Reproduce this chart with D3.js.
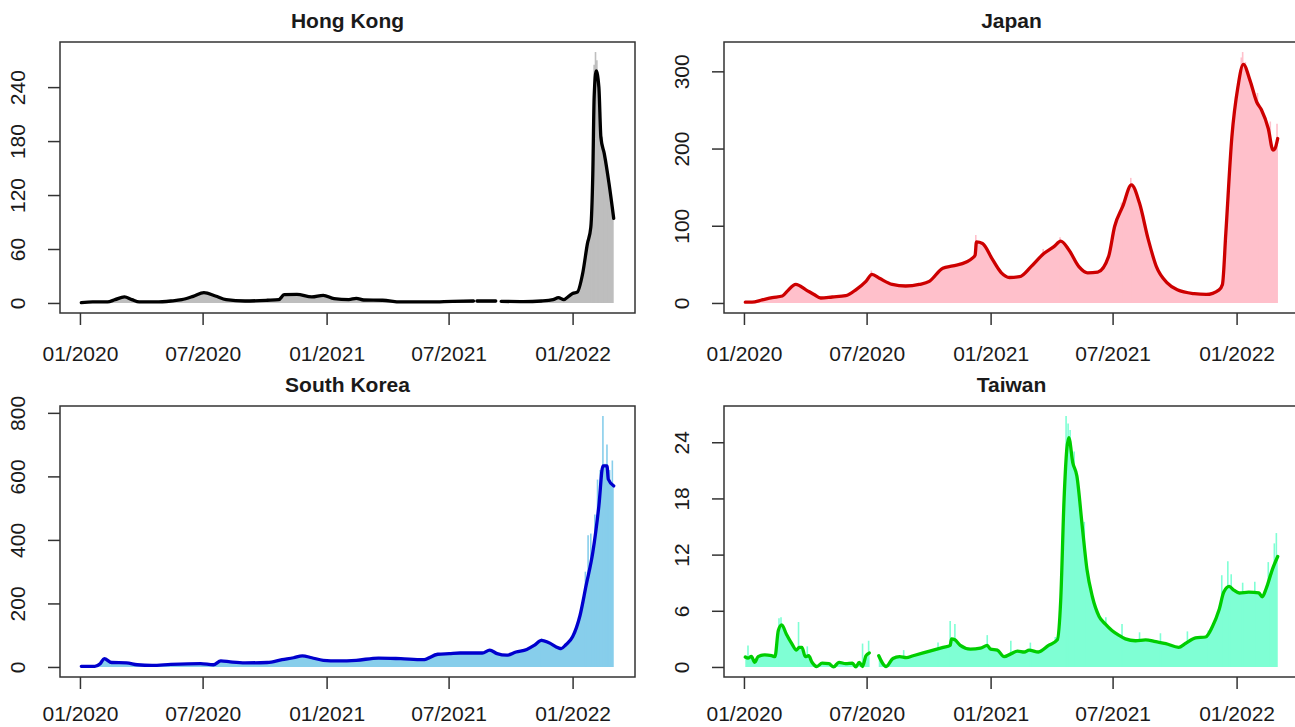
<!DOCTYPE html>
<html>
<head>
<meta charset="utf-8">
<script src="https://cdn.jsdelivr.net/npm/d3@7"></script>
<style>
  body { margin: 0; background: #fff; }
  svg text { font-family: "Liberation Sans", Arial, sans-serif; fill: #1a1a1a; }
</style>
</head>
<body>
<div id="chart"></div>
<script>
// x axis ticks shared by all four panels
const xTickDates = ["2020-01-01", "2020-07-01", "2021-01-01", "2021-07-01", "2022-01-01"];

// Hong Kong: 7-day average line + daily spikes above it
const hkDates = ["2020-01-03","2020-01-20","2020-02-11","2020-02-22","2020-03-07","2020-03-18","2020-03-29","2020-04-23","2020-05-15","2020-05-31","2020-06-17","2020-07-03","2020-07-20","2020-08-05","2020-09-02","2020-10-05","2020-10-22","2020-10-30","2020-11-18","2020-12-10","2020-12-27","2021-01-12","2021-02-03","2021-02-14","2021-02-25","2021-03-25","2021-04-21","2021-06-04","2021-07-07","2021-08-07","2021-08-10","2021-08-12","2021-09-09","2021-09-13","2021-09-17","2021-10-20","2021-11-16","2021-12-03","2021-12-11","2021-12-19","2021-12-27","2022-01-01","2022-01-08","2022-01-16","2022-01-23","2022-01-28","2022-01-31","2022-02-02","2022-02-05","2022-02-09","2022-02-12","2022-02-17","2022-02-24","2022-03-03"];
const hkAvg = [0.4,1.1,1.1,3.7,6.7,3.7,1.1,1.1,2.2,3.7,7.4,11.5,7.8,3.7,2.2,3.0,3.7,9.2,9.6,6.7,8.5,4.8,3.7,5.2,3.3,3.0,1.1,1.1,1.8,2.2,null,2.2,2.2,null,1.8,1.5,2.2,3.7,5.9,3.7,8,10.5,12,33,66,84,144,229,258,240,184,166,133,94];
const hkSpikeDates = ["2022-01-29","2022-01-31","2022-02-02","2022-02-04","2022-02-06","2022-02-09","2022-02-14","2022-02-20"];
const hkSpikeValues = [95,200,265,279,270,245,185,160];
const hkTicks = [0, 60, 120, 180, 240];

// Japan
const jpDates = ["2020-01-03","2020-01-13","2020-01-28","2020-02-12","2020-02-27","2020-03-05","2020-03-18","2020-04-02","2020-04-14","2020-04-24","2020-05-11","2020-05-31","2020-06-15","2020-06-30","2020-07-09","2020-07-20","2020-08-08","2020-08-28","2020-09-17","2020-10-02","2020-10-22","2020-11-06","2020-11-26","2020-12-05","2020-12-09","2020-12-11","2020-12-20","2021-01-04","2021-01-17","2021-01-29","2021-02-13","2021-03-02","2021-03-21","2021-04-05","2021-04-15","2021-04-27","2021-05-12","2021-05-25","2021-06-09","2021-06-25","2021-07-04","2021-07-16","2021-07-29","2021-08-10","2021-08-23","2021-09-04","2021-09-20","2021-10-05","2021-10-30","2021-11-17","2021-12-06","2021-12-11","2021-12-16","2021-12-25","2022-01-03","2022-01-11","2022-01-21","2022-01-31","2022-02-07","2022-02-17","2022-02-24","2022-02-27","2022-03-03"];
const jpAvg = [1,1,4,7,9,15,24,17,11,6.4,7.7,9.4,17,28,37,32,24,22,24,28,45,48,53,58,62,79,77,56,39,33,34,47,64,73,80,69,47,39,40,60,99,125,153,129,82,47,26,17,12,11,17,24,90,215,280,309,288,260,250,226,198,200,213];
const jpSpikeDates = ["2020-07-08","2020-12-10","2021-03-20","2021-04-14","2021-07-14","2021-07-28","2022-01-08","2022-01-10","2022-01-14","2022-02-01","2022-02-20","2022-03-02"];
const jpSpikeValues = [42,88,70,85,130,162,318,325,312,272,235,232];
const jpTicks = [0, 100, 200, 300];

// South Korea
const krDates = ["2020-01-03","2020-01-23","2020-01-31","2020-02-06","2020-02-17","2020-03-10","2020-03-26","2020-04-17","2020-05-15","2020-06-28","2020-07-17","2020-07-28","2020-08-11","2020-09-02","2020-10-05","2020-10-27","2020-11-13","2020-11-26","2020-12-10","2020-12-27","2021-01-18","2021-02-14","2021-03-19","2021-04-21","2021-05-24","2021-06-15","2021-07-02","2021-07-18","2021-08-20","2021-08-31","2021-09-11","2021-09-25","2021-10-09","2021-10-25","2021-11-05","2021-11-16","2021-11-27","2021-12-11","2021-12-15","2021-12-22","2022-01-01","2022-01-12","2022-01-21","2022-01-31","2022-02-09","2022-02-15","2022-02-21","2022-02-23","2022-03-03"];
const krAvg = [2,2,10,26,14,13,7,5,8,10.5,7,19,16,13,14,23,29,35,29,21,19,21,28,26,23,40,42,44,44,53,42,37,47,55,68,84,76,60,58,70,95,162,256,361,507,633,633,591,570];
const krSpikeDates = ["2021-11-16","2022-01-20","2022-01-24","2022-01-28","2022-02-03","2022-02-07","2022-02-11","2022-02-15","2022-02-18","2022-02-21","2022-02-25","2022-03-01"];
const krSpikeValues = [90,300,415,420,480,590,620,790,640,700,620,650];
const krTicks = [0, 200, 400, 600, 800];

// Taiwan
const twDates = ["2020-01-03","2020-01-07","2020-01-12","2020-01-17","2020-01-22","2020-02-01","2020-02-11","2020-02-16","2020-02-21","2020-02-26","2020-03-04","2020-03-12","2020-03-19","2020-03-23","2020-03-27","2020-04-01","2020-04-06","2020-04-11","2020-04-18","2020-04-26","2020-05-06","2020-05-13","2020-05-21","2020-05-31","2020-06-10","2020-06-15","2020-06-20","2020-06-25","2020-06-30","2020-07-05","2020-07-10","2020-07-19","2020-07-30","2020-08-09","2020-08-19","2020-08-29","2020-09-08","2020-09-23","2020-10-08","2020-10-23","2020-11-02","2020-11-04","2020-11-09","2020-11-17","2020-12-02","2020-12-17","2020-12-27","2021-01-01","2021-01-11","2021-01-21","2021-01-31","2021-02-10","2021-02-20","2021-02-27","2021-03-13","2021-03-28","2021-04-10","2021-04-15","2021-04-20","2021-04-24","2021-04-27","2021-05-03","2021-05-09","2021-05-17","2021-05-24","2021-06-01","2021-06-11","2021-06-20","2021-06-30","2021-07-10","2021-07-20","2021-08-04","2021-08-19","2021-09-03","2021-09-18","2021-10-07","2021-10-17","2021-11-01","2021-11-16","2021-11-26","2021-12-06","2021-12-13","2021-12-21","2021-12-28","2022-01-05","2022-01-19","2022-02-03","2022-02-08","2022-02-14","2022-02-23","2022-03-03"];
const twAvg = [1.06,0.95,1.13,0.5,1.1,1.3,1.2,1.1,3.9,4.5,3.5,2.5,1.8,2.1,2.1,1.1,1.2,0.5,0.05,0.4,0.35,0,0.5,0.35,0.4,0,0.5,0.05,1.2,1.5,null,1.2,0.05,0.9,1.1,1.0,1.2,1.5,1.8,2.1,2.3,3.0,2.9,2.3,1.9,2.0,2.3,1.9,1.8,1.1,1.4,1.7,1.6,1.8,1.6,2.3,2.9,7.1,17.9,23.2,24.5,21.8,20.4,15,10.4,7.5,5.4,4.6,3.9,3.4,3.0,2.8,2.9,2.7,2.5,2.1,2.5,3.1,3.2,4.3,6.1,8.0,8.6,8.2,7.9,8.0,7.9,7.5,8.4,10.4,11.8];
const twSpikeDates = ["2020-01-07","2020-02-22","2020-02-25","2020-03-22","2020-04-04","2020-06-25","2020-07-04","2020-08-25","2020-10-15","2020-11-02","2020-11-09","2020-12-27","2021-01-31","2021-03-01","2021-04-07","2021-04-23","2021-04-26","2021-04-29","2021-05-05","2021-05-20","2021-06-21","2021-07-15","2021-08-10","2021-09-10","2021-10-20","2021-11-20","2021-12-10","2021-12-19","2021-12-24","2022-01-10","2022-01-28","2022-02-17","2022-02-26","2022-03-01"];
const twSpikeValues = [2.3,5.2,5.3,4.8,2.2,2.5,2.8,1.8,2.6,4.9,4.6,3.4,2.8,2.6,3.2,26.8,26.0,25.3,23,15.5,5.3,4.6,3.7,3.6,3.8,3.9,9.8,11.3,9.9,9.0,9.1,11.2,13.2,14.3];
const twTicks = [0, 6, 12, 18, 24];

// layout
const width = 1295, height = 727;
const plotW = 575, plotH = 271;

const svg = d3.select("#chart")
    .append("svg")
    .attr("width", width)
    .attr("height", height);

const parse = d3.timeParse("%Y-%m-%d");

// bottom row labels sit a little higher so they are not cut by the page edge
const panels = [
    {name: "Hong Kong", left: 60, top: 42, pad: 21, dates: hkDates, avg: hkAvg, spikeDates: hkSpikeDates, spikeValues: hkSpikeValues, ticks: hkTicks, line: "#000000", fill: "#BEBEBE"},
    {name: "Japan", left: 724, top: 42, pad: 21, dates: jpDates, avg: jpAvg, spikeDates: jpSpikeDates, spikeValues: jpSpikeValues, ticks: jpTicks, line: "#CD0000", fill: "#FFC0CB"},
    {name: "South Korea", left: 60, top: 406, pad: 17, dates: krDates, avg: krAvg, spikeDates: krSpikeDates, spikeValues: krSpikeValues, ticks: krTicks, line: "#0000CD", fill: "#87CEEB"},
    {name: "Taiwan", left: 724, top: 406, pad: 17, dates: twDates, avg: twAvg, spikeDates: twSpikeDates, spikeValues: twSpikeValues, ticks: twTicks, line: "#00CD00", fill: "#7FFFD4"}
];

panels.forEach(drawPanel);

function drawPanel(p) {
    const dates = p.dates.map(parse);
    const first = dates[0], last = dates[dates.length - 1];
    const span = last - first;
    // R style 4% padding on both axes
    const x = d3.scaleTime()
        .domain([new Date(+first - 0.04 * span), new Date(+last + 0.04 * span)])
        .range([0, plotW]);
    const yMax = d3.max(p.avg.concat(p.spikeValues));
    const y = d3.scaleLinear()
        .domain([-0.04 * yMax, yMax * 1.04])
        .range([plotH, 0]);

    const g = svg.append("g")
        .attr("transform", `translate(${p.left},${p.top})`);

    const pts = dates.map((d, i) => ({date: d, v: p.avg[i]}));

    g.append("path")
        .datum(pts)
        .attr("fill", p.fill)
        .attr("d", d3.area()
            .defined(d => d.v != null)
            .curve(d3.curveMonotoneX)
            .x(d => x(d.date))
            .y0(y(0))
            .y1(d => y(d.v)));

    const spikes = p.spikeDates.map((d, i) => ({date: parse(d), v: p.spikeValues[i]}));
    g.append("g")
        .selectAll("line")
        .data(spikes)
        .join("line")
        .attr("x1", d => x(d.date))
        .attr("x2", d => x(d.date))
        .attr("y1", y(0))
        .attr("y2", d => y(d.v))
        .attr("stroke", p.fill)
        .attr("stroke-width", 1.6);

    g.append("path")
        .datum(pts)
        .attr("fill", "none")
        .attr("stroke", p.line)
        .attr("stroke-width", 3.3)
        .attr("stroke-linejoin", "round")
        .attr("stroke-linecap", "round")
        .attr("d", d3.line()
            .defined(d => d.v != null)
            .curve(d3.curveMonotoneX)
            .x(d => x(d.date))
            .y(d => y(d.v)));

    // box
    g.append("rect")
        .attr("width", plotW)
        .attr("height", plotH)
        .attr("fill", "none")
        .attr("stroke", "#333")
        .attr("stroke-width", 1.5);

    // x axis
    const xAxis = g.append("g")
        .attr("transform", `translate(0,${plotH})`)
        .call(d3.axisBottom(x)
            .tickValues(xTickDates.map(parse))
            .tickFormat(d3.timeFormat("%m/%Y"))
            .tickSize(12)
            .tickSizeOuter(0)
            .tickPadding(p.pad));
    xAxis.select(".domain").remove();
    xAxis.attr("font-family", null);
    xAxis.selectAll("line").attr("stroke", "#333").attr("stroke-width", 1.5);
    xAxis.selectAll("text").attr("font-size", 21).attr("fill", "#1a1a1a");

    // y axis, labels rotated like base R
    const yAxis = g.append("g")
        .call(d3.axisLeft(y)
            .tickValues(p.ticks)
            .tickSize(12)
            .tickSizeOuter(0));
    yAxis.select(".domain").remove();
    yAxis.attr("font-family", null);
    yAxis.selectAll("line").attr("stroke", "#333").attr("stroke-width", 1.5);
    yAxis.selectAll("text")
        .attr("transform", "rotate(-90)")
        .attr("x", 0)
        .attr("y", -35)
        .attr("dy", 0)
        .attr("text-anchor", "middle")
        .attr("font-size", 21)
        .attr("fill", "#1a1a1a");

    g.append("text")
        .attr("x", plotW / 2)
        .attr("y", -14)
        .attr("text-anchor", "middle")
        .attr("font-size", 21)
        .attr("font-weight", "bold")
        .text(p.name);
}
</script>
</body>
</html>
